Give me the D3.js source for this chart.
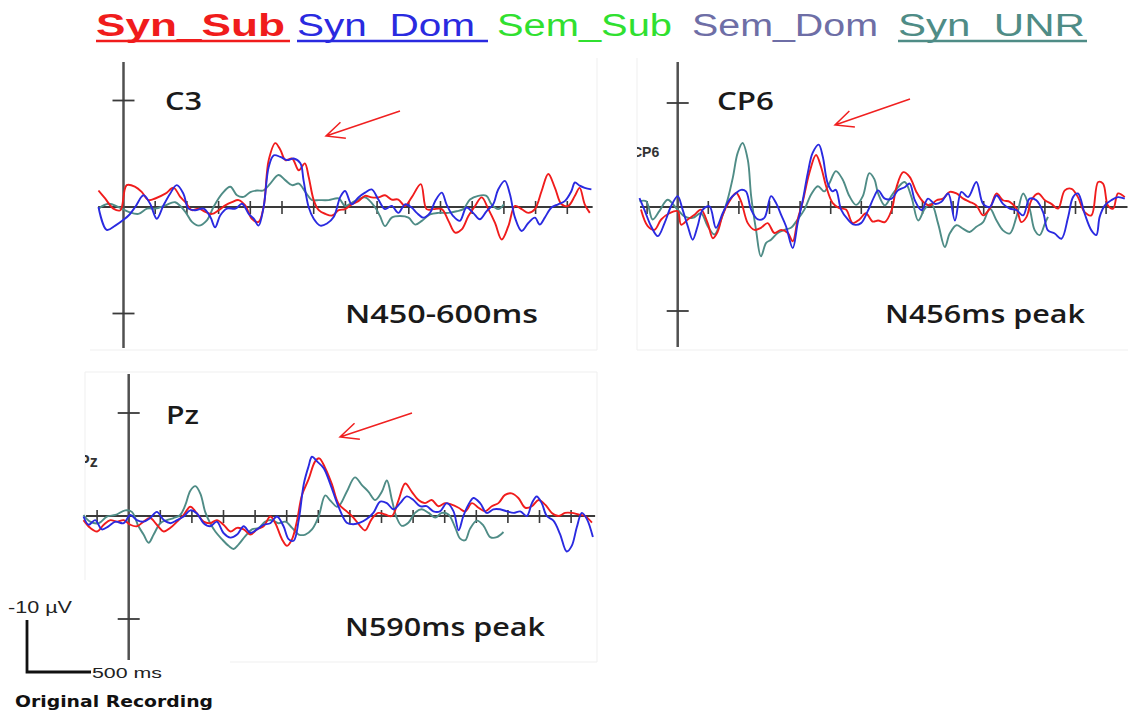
<!DOCTYPE html>
<html><head><meta charset="utf-8">
<script src="https://cdn.jsdelivr.net/npm/d3@7"></script>
<style>html,body{margin:0;padding:0;background:#fff;}svg{display:block;}</style>
</head><body>
<svg id="chart" width="1128" height="716"></svg>
<script>
// ---------------- DATA ----------------
const legendNames = ["Syn_Sub", "Syn_Dom", "Sem_Sub", "Sem_Dom", "Syn_UNR"];
const legendColors = ["#f01c1c", "#2a2ae0", "#30e030", "#6e6ea6", "#4f8c86"];
const electrodes = ["C3", "CP6", "Pz"];
const panelNotes = ["N450-600ms", "N456ms peak", "N590ms peak"];
const timeTicks = [-100, 0, 100, 200, 300, 400, 500, 600, 700, 800, 900, 1000, 1100, 1200, 1300, 1400];
const ampTicks = [-20, 20];            // µV (negative plotted up)
const scaleBarLabels = ["-10 µV", "500 ms", "Original Recording"];

// [time ms, amplitude µV] — negative up
const C3_SynSub = [[-79,-3.1],[-58,-1.6],[-32,0.3],[-10,0.6],[10,-4.1],[37,-3.8],[58,-2.8],[79,-1.3],[100,-1.6],[132,-2.5],[158,-3.6],[179,-1.9],[195,-0.9],[216,0.6],[237,0.3],[258,0.9],[279,1.3],[300,0.6],[321,-0.3],[342,-0.9],[363,-1.3],[384,-0.3],[405,2.2],[426,2.8],[442,0],[458,-8.8],[479,-12],[495,-10.7],[511,-8.8],[532,-9.1],[553,-6.9],[572,-8.2],[584,-5.7],[600,-1.3],[616,0.6],[637,1.3],[658,1.6],[679,0.6],[699,0.4],[720,-0.5],[741,-1.1],[762,-2.1],[783,-1.8],[804,-1.8],[825,-2.2],[846,-1.4],[867,-1.4],[888,-0.2],[909,-1.8],[938,-4.3],[956,0.4],[977,0.4],[1004,0.4],[1025,2.6],[1046,4.8],[1067,4.2],[1088,1.7],[1109,-0.2],[1130,-1.8],[1151,0.4],[1172,3],[1193,6.1],[1214,3.6],[1235,-0.2],[1256,0.4],[1277,1.1],[1298,0.4],[1319,-3],[1340,-6.2],[1361,-3.6],[1382,-0.5],[1403,-0.2],[1424,-2.1],[1439,-3.6],[1455,-0.5],[1471,1.1]];
const C3_SynDom = [[-79,0],[-53,4.3],[-26,3.5],[0,2.4],[16,1.6],[37,0],[63,-2.2],[84,-0.6],[105,2.2],[126,-0.3],[147,-2.5],[168,-4.1],[189,-2.5],[205,0.3],[226,0.6],[253,0.3],[274,1.9],[289,3.8],[305,1.6],[326,0.3],[353,0.3],[374,-0.6],[395,1.3],[411,2.2],[426,3.5],[442,0],[458,-7.5],[474,-9.7],[495,-9.4],[516,-8.8],[537,-9.1],[558,-8.2],[568,-5],[584,0],[600,2.2],[621,3.5],[642,3.1],[663,1.9],[684,-1.9],[699,-3],[720,-0.5],[741,-1.8],[762,-2.7],[783,-3.3],[804,-1.4],[825,0.4],[846,-0.2],[867,1.1],[888,-0.5],[909,0.1],[925,1.1],[946,2],[967,1.1],[983,-1.1],[1004,-2.7],[1019,-0.5],[1040,1.7],[1061,2.6],[1082,0.1],[1103,1.1],[1124,2.3],[1145,0.8],[1166,-0.5],[1182,-3.3],[1203,-4.9],[1219,-2.4],[1235,2],[1256,4.5],[1277,3],[1298,2],[1313,3.3],[1329,2],[1350,0.1],[1371,-0.5],[1392,-1.1],[1413,-3],[1424,-4.6],[1439,-4],[1455,-3.6],[1476,-3.3]];
const C3_SynUNR = [[-79,0.3],[-47,-0.6],[-16,0],[16,0.9],[47,1.3],[74,0.3],[100,0.3],[132,-0.3],[163,-0.9],[195,0.9],[216,2.8],[237,3.5],[263,2.5],[284,0],[311,-2.5],[337,-3.8],[358,-2.2],[379,-1.9],[400,-2.8],[421,-3.1],[442,-3.1],[463,-4.4],[489,-6],[511,-5],[532,-4.1],[553,-4.4],[574,-2.8],[595,-1.3],[616,-1.3],[647,-1.3],[679,-1.6],[699,-0.2],[730,-1.1],[762,-1.8],[794,0.1],[809,1.7],[825,3.6],[846,2],[872,1.7],[899,2],[920,3.3],[941,2.6],[967,1.4],[993,1.1],[1025,1.1],[1051,0.8],[1072,0.4],[1093,-1.4],[1119,-2.1],[1145,-2.1],[1161,-0.5],[1182,0.4],[1200,-0.5]];

const CP6_SynSub = [[-120,0.5],[-98,3.7],[-76,4.4],[-54,2.4],[-27,1.2],[0,0.8],[11,3.4],[33,2.4],[55,1.5],[76,0.5],[98,3.1],[115,6],[131,4.7],[147,1.5],[169,-1.1],[191,-2.7],[207,-1.1],[229,3.1],[251,4.4],[272,4],[294,3.1],[316,5],[338,4.4],[360,5],[376,6.6],[392,2.4],[409,-1.1],[430,-6.5],[452,-10],[468,-7.8],[485,-4],[506,-0.8],[528,0.2],[550,0.5],[572,3.1],[594,2.4],[615,1.2],[637,2.8],[655,2.6],[677,2.9],[699,0.6],[715,-3.8],[737,-6.7],[758,-5.8],[780,-2.9],[802,-1],[824,-0.3],[846,-1.3],[867,-1.6],[889,-2.9],[911,-2.6],[933,-1.6],[954,-1],[976,-0.3],[998,1.6],[1020,0.3],[1042,-2.6],[1063,-1.3],[1085,-1],[1107,0.3],[1123,2.9],[1140,1.9],[1156,-1.3],[1178,-2.6],[1200,-1.3],[1221,-0.6],[1243,0.3],[1265,-3.2],[1287,-3.5],[1308,-1.9],[1330,1],[1352,1.6],[1374,-4.8],[1390,-4.5],[1406,-0.3],[1423,0.3],[1439,-2.6],[1461,-1.9]];
const CP6_SynDom = [[-125,-1.7],[-109,0.5],[-87,3.7],[-65,5.6],[-43,3.1],[-22,-0.1],[0,-2.1],[16,0.5],[33,3.7],[49,6.3],[65,3.7],[82,0.5],[104,-0.1],[125,4],[147,1.2],[169,-1.4],[191,-2.7],[207,-3.3],[223,-3],[240,0.5],[262,2.4],[283,2.1],[305,-2.1],[321,-0.8],[338,1.5],[354,3.7],[376,7.9],[392,3.1],[409,-1.4],[425,-6.5],[441,-10.4],[461,-12],[474,-9.7],[490,-4.6],[506,-3],[517,-3.3],[534,0.5],[556,2.4],[577,3.4],[599,3.1],[621,0.8],[643,-2.1],[655,-3.2],[677,-1.6],[699,-1.6],[720,-3.2],[742,-3.8],[758,-4.5],[775,-1.3],[797,0.6],[818,-1.6],[840,-0.6],[862,-1],[884,-2.6],[906,2.6],[927,-2.9],[949,-1.9],[976,-4.8],[998,-0.6],[1020,0],[1042,-2.2],[1063,-0.6],[1085,0.3],[1107,0.6],[1129,1.6],[1150,-1.6],[1172,-1.3],[1194,1],[1210,4.5],[1232,5.1],[1254,6.1],[1276,1.9],[1292,-1.9],[1308,-2.6],[1330,1.3],[1352,4.5],[1368,5.4],[1379,1.9],[1396,-0.3],[1417,-1.3],[1439,-1.9],[1461,-1.6]];
const CP6_SynUNR = [[-125,-1.1],[-103,-1.1],[-82,2.4],[-60,0.8],[-33,-1.4],[-5,0.2],[22,1.8],[49,2.1],[76,1.2],[98,3.7],[120,5.3],[142,2.4],[163,-1.4],[180,-5.6],[196,-10.4],[212,-12.3],[229,-9.1],[240,-2.1],[256,4.4],[272,9.5],[289,6.9],[305,6.3],[327,5],[349,4.4],[370,4],[392,2.4],[414,0.5],[436,-2.4],[458,-4],[479,-3],[496,-4.6],[517,-6.9],[539,-5.3],[561,-2.1],[583,-0.4],[605,-2.1],[626,-6.5],[643,-5.3],[655,-2.6],[677,-0.3],[699,-2.2],[720,-3.8],[742,-4.8],[764,-1.9],[786,2.6],[808,0.3],[829,-0.6],[851,3.2],[873,7.7],[889,5.1],[911,3.5],[933,4.2],[954,4.8],[976,3.8],[998,2.9],[1020,0.3],[1042,2.6],[1063,4.5],[1085,5.1],[1107,1.9],[1129,-2.6],[1150,0.3],[1167,4.5],[1183,5.4],[1200,3.2],[1210,1.9]];

const Pz_SynSub = [[-143,0.8],[-122,2.3],[-100,3],[-79,1.7],[-58,0.8],[-37,1.1],[-16,0.8],[5,1.7],[26,2],[47,1.1],[68,0.4],[89,1.7],[111,3],[132,2.3],[153,1.1],[174,-0.2],[195,-1.8],[216,-0.5],[237,1.1],[258,1.4],[279,0.8],[300,1.7],[322,3],[343,2.3],[364,2.6],[385,3.6],[406,2.6],[427,2],[448,0.1],[464,1.4],[485,4.5],[501,5.8],[517,4.5],[533,0.8],[548,-4],[569,-7.1],[590,-10.6],[603,-11.2],[622,-9.3],[643,-6.2],[664,-2.4],[690,-0.9],[711,0.3],[732,1.9],[748,2.8],[769,0.6],[790,-0.6],[811,-0.3],[833,0],[854,-3.1],[875,-6.3],[896,-4.7],[917,-3.1],[938,-2.5],[959,-3.1],[980,-1.9],[1001,-2.5],[1022,-2.2],[1044,-1.6],[1065,-0.9],[1086,-2.5],[1107,-1.6],[1128,-0.9],[1149,-1.9],[1170,-2.5],[1191,-4.1],[1212,-4.4],[1233,-3.5],[1255,-1.6],[1276,-1.9],[1297,-3.1],[1318,-2.2],[1339,-0.6],[1360,0],[1381,-0.6],[1402,-0.6],[1423,-0.3],[1444,0],[1466,1.3]];
const Pz_SynDom = [[-143,0.1],[-127,1.7],[-106,0.8],[-85,2.6],[-64,2],[-42,1.1],[-16,1.4],[5,-0.2],[26,0.8],[47,1.1],[68,0.4],[89,-0.8],[111,0.8],[132,1.4],[153,0.8],[174,0.1],[195,-1.1],[216,-0.5],[237,1.4],[258,2],[279,1.1],[300,3.3],[322,4.2],[343,3.6],[364,2],[385,3.3],[406,2.6],[427,1.7],[448,1.4],[469,0.1],[490,2],[506,4.5],[522,4.8],[538,0.8],[554,-6.2],[569,-9.6],[580,-11.5],[596,-10.6],[617,-9.3],[638,-6.2],[664,-1.8],[690,1.3],[711,1.6],[732,1.3],[753,0.6],[774,-0.6],[796,-2.8],[817,-2.5],[838,-1.3],[859,-2.5],[880,-3.8],[901,-3.1],[922,-1.9],[943,-1.9],[964,-0.9],[985,-0.9],[1007,-2.5],[1028,-0.9],[1044,2.8],[1059,0],[1075,-2.2],[1091,-3.5],[1112,-2.5],[1133,-0.6],[1154,-1.3],[1175,-1.3],[1197,-0.9],[1218,-0.6],[1239,-0.9],[1260,0],[1276,-2.5],[1291,-3.8],[1307,-2.5],[1323,0],[1344,0.9],[1365,3.5],[1386,6.9],[1402,5.8],[1418,2.2],[1434,-0.6],[1450,0.6],[1469,4.1]];
const Pz_SynUNR = [[-143,-0.2],[-122,1.1],[-95,1.4],[-69,0.1],[-42,-0.2],[-11,-1.1],[10,-0.8],[31,2],[47,3.6],[63,5.2],[79,3.6],[100,1.4],[121,0.8],[142,0.4],[163,-0.2],[179,-2.1],[195,-4.9],[211,-5.8],[227,-4.3],[242,-0.8],[258,1.4],[274,3],[295,4.5],[316,5.8],[332,6.4],[348,5.5],[369,3.9],[390,2.6],[411,2.3],[432,1.1],[453,0.8],[474,1.4],[496,1.1],[517,2.3],[538,3.6],[559,3.6],[580,2.6],[601,0.1],[622,-4],[638,-3],[659,-1.8],[669,-2.2],[690,-4.7],[716,-7.5],[738,-6],[759,-4.7],[780,-3.1],[801,-4.7],[817,-6.9],[833,-3.1],[848,0.3],[864,1.9],[885,1.3],[906,-0.6],[927,-1.3],[949,-0.6],[970,0.3],[991,-0.6],[1012,-0.3],[1033,2.2],[1049,4.4],[1065,4.7],[1080,2.5],[1102,0.9],[1123,1.9],[1144,4.1],[1165,4.1],[1186,3.1]];

const panelSeries = [
  {SynSub: C3_SynSub, SynDom: C3_SynDom, SynUNR: C3_SynUNR},
  {SynSub: CP6_SynSub, SynDom: CP6_SynDom, SynUNR: CP6_SynUNR},
  {SynSub: Pz_SynSub, SynDom: Pz_SynDom, SynUNR: Pz_SynUNR}
];
const baselineSpan = [[-80, 1480], [-123, 1470], [-135, 1476]];

// ---------------- LAYOUT ----------------
const layout = [
  {axisX: 123.5, k: 0.317, yTop: 100.5, yBot: 313.5, axTop: 62, axBot: 348,
   label: [165, 110, 37], note: [345, 323, 193], arrow: [[400,111],[326,136]]},
  {axisX: 677.7, k: 0.306, yTop: 103, yBot: 311, axTop: 62, axBot: 347,
   label: [717, 110, 57], note: [885, 323, 200], arrow: [[910,99],[835,125]],
   small: {x: 632, y: 157, clip: 637, text: "CP6"}},
  {axisX: 128.7, k: 0.316, yTop: 413, yBot: 619, axTop: 374, axBot: 660,
   label: [166, 424, 33], note: [345, 636, 200], arrow: [[412,413],[340,437]],
   small: {x: 79, y: 467, clip: 85, text: "Pz", size: 16}}
];

const svg = d3.select("#chart");
const axisColor = "#3a3a3a";
const labelFont = "'Open Sans', 'Noto Sans', sans-serif";
const arialFont = "'Liberation Sans', Arial, sans-serif";

// faint frames of pasted panels
const frames = svg.append("g").attr("stroke", "#efefef").attr("fill", "none").attr("stroke-width", 1);
frames.append("path").attr("d", "M90,350 H597 V58");
frames.append("path").attr("d", "M637,58 V350 H1128");
frames.append("path").attr("d", "M85,580 V372 H597 V662 H230");

// legend
const legendX = [96, 297, 497, 692, 898];
const legendW = [189, 178, 175, 186, 187];
const underlineW = [194, 191, 0, 0, 189];
legendNames.forEach((n, i) => {
  svg.append("text")
    .attr("x", legendX[i]).attr("y", 36)
    .attr("font-family", arialFont).attr("font-size", 31)
    .attr("font-weight", i === 0 ? "bold" : "normal")
    .attr("fill", legendColors[i])
    .attr("textLength", legendW[i]).attr("lengthAdjust", "spacingAndGlyphs")
    .text(n);
  if (underlineW[i] > 0) {
    svg.append("line").attr("x1", legendX[i]).attr("x2", legendX[i] + underlineW[i])
      .attr("y1", 41).attr("y2", 41).attr("stroke", legendColors[i]).attr("stroke-width", 2.6);
  }
});

const seriesOrder = [["SynUNR", legendColors[4]], ["SynSub", legendColors[0]], ["SynDom", legendColors[1]]];

layout.forEach((L, p) => {
  const x = d3.scaleLinear().domain([-100, 1500]).range([L.axisX - 100 * L.k, L.axisX + 1500 * L.k]);
  const y = d3.scaleLinear().domain([ampTicks[0], ampTicks[1]]).range([L.yTop, L.yBot]);
  const g = svg.append("g");

  const span = baselineSpan[p];
  g.append("line").attr("x1", x(span[0])).attr("x2", x(span[1]))
    .attr("y1", y(0)).attr("y2", y(0)).attr("stroke", axisColor).attr("stroke-width", 2);
  g.selectAll(".tt").data(timeTicks.filter(t => t >= span[0] && t <= span[1] && t !== 0))
    .enter().append("line")
    .attr("x1", d => x(d)).attr("x2", d => x(d))
    .attr("y1", y(0) - 6).attr("y2", y(0) + 7)
    .attr("stroke", axisColor).attr("stroke-width", 1.6);
  g.append("line").attr("x1", x(0)).attr("x2", x(0)).attr("y1", L.axTop).attr("y2", L.axBot)
    .attr("stroke", "#505050").attr("stroke-width", 2.5);
  g.selectAll(".at").data(ampTicks).enter().append("line")
    .attr("x1", x(0) - 11).attr("x2", x(0) + 11)
    .attr("y1", d => y(d)).attr("y2", d => y(d))
    .attr("stroke", axisColor).attr("stroke-width", 1.8);

  const line = d3.line().x(d => x(d[0])).y(d => y(d[1])).curve(d3.curveCatmullRom.alpha(0.5));
  seriesOrder.forEach(([key, col]) => {
    g.append("path").datum(panelSeries[p][key])
      .attr("d", line).attr("fill", "none").attr("stroke", col)
      .attr("stroke-width", 1.9).attr("stroke-linejoin", "round");
  });

  g.append("text").attr("x", L.label[0]).attr("y", L.label[1])
    .attr("font-family", labelFont).attr("font-size", 25).attr("font-weight", 600)
    .attr("fill", "#1a1a1a").attr("textLength", L.label[2]).attr("lengthAdjust", "spacingAndGlyphs")
    .text(electrodes[p]);
  g.append("text").attr("x", L.note[0]).attr("y", L.note[1])
    .attr("font-family", labelFont).attr("font-size", 25).attr("font-weight", 600)
    .attr("fill", "#1a1a1a").attr("textLength", L.note[2]).attr("lengthAdjust", "spacingAndGlyphs")
    .text(panelNotes[p]);

  if (L.small) {
    const cid = "clip" + p;
    svg.append("clipPath").attr("id", cid).append("rect")
      .attr("x", L.small.clip).attr("y", L.small.y - 20).attr("width", 40).attr("height", 30);
    g.append("text").attr("x", L.small.x).attr("y", L.small.y)
      .attr("clip-path", `url(#${cid})`)
      .attr("font-family", arialFont).attr("font-size", L.small.size || 14).attr("font-weight", "bold")
      .attr("fill", "#333").text(L.small.text);
  }

  const [tail, tip] = L.arrow;
  const ang = Math.atan2(tail[1] - tip[1], tail[0] - tip[0]);
  const arm = 20, spread = 25 * Math.PI / 180;
  const a1 = [tip[0] + arm * Math.cos(ang - spread), tip[1] + arm * Math.sin(ang - spread)];
  const a2 = [tip[0] + arm * Math.cos(ang + spread), tip[1] + arm * Math.sin(ang + spread)];
  g.append("path")
    .attr("d", `M${tail[0]},${tail[1]} L${tip[0]},${tip[1]} M${a1[0]},${a1[1]} L${tip[0]},${tip[1]} L${a2[0]},${a2[1]}`)
    .attr("fill", "none").attr("stroke", "#f02020").attr("stroke-width", 1.5);
});

// scale bar (bottom-left)
svg.append("path").attr("d", "M27,620 V672 H91").attr("fill", "none")
  .attr("stroke", "#111").attr("stroke-width", 2.8);
svg.append("text").attr("x", 8).attr("y", 613).attr("font-family", arialFont)
  .attr("font-size", 16).attr("fill", "#222")
  .attr("textLength", 64).attr("lengthAdjust", "spacingAndGlyphs").text(scaleBarLabels[0]);
svg.append("text").attr("x", 92).attr("y", 678).attr("font-family", arialFont)
  .attr("font-size", 15).attr("fill", "#222")
  .attr("textLength", 70).attr("lengthAdjust", "spacingAndGlyphs").text(scaleBarLabels[1]);
svg.append("text").attr("x", 15).attr("y", 707).attr("font-family", "'DejaVu Sans', sans-serif")
  .attr("font-size", 16).attr("font-weight", "bold").attr("fill", "#111")
  .attr("textLength", 198).attr("lengthAdjust", "spacingAndGlyphs").text(scaleBarLabels[2]);
</script>
</body></html>
